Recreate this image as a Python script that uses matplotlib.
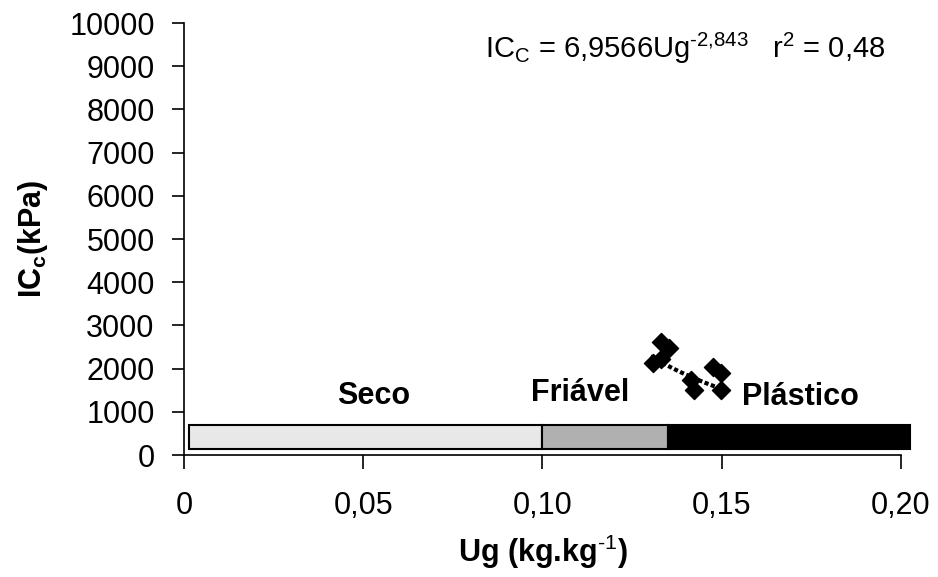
import numpy as np
import matplotlib.pyplot as plt

plt.rcParams['font.family'] = ['Liberation Sans', 'DejaVu Sans']
plt.rcParams['mathtext.fontset'] = 'custom'
plt.rcParams['mathtext.rm'] = 'Liberation Sans'
plt.rcParams['mathtext.bf'] = 'Liberation Sans:bold'

# measured points
ug = [0.1330, 0.1352, 0.1307, 0.1330, 0.1475, 0.1497, 0.1413, 0.1422, 0.1497]
icc = [2616, 2477, 2130, 2222, 2037, 1898, 1736, 1505, 1505]

# consistency ranges (bar along the bottom)
zone_edges = [0.0015, 0.10, 0.135, 0.2025]
zone_colors = ['#e8e8e8', '#b0b0b0', 'black']
zone_names = ['Seco', 'Friável', 'Plástico']
zone_label_x = [0.0528, 0.1105, 0.172]
zone_label_y = [1366, 1435, 1340]

a, b = 6.9566, -2.843

fig = plt.figure(figsize=(9.38, 5.77), dpi=100)
ax = fig.add_axes([0.196, 0.2114, 0.7646, 0.7487])

lefts = zone_edges[:-1]
widths = np.diff(zone_edges)
ax.barh(415, widths, left=lefts, height=560, color=zone_colors,
        edgecolor='black', linewidth=1.5, clip_on=False, zorder=2)

for name, x, y in zip(zone_names, zone_label_x, zone_label_y):
    ax.text(x, y, name, fontsize=22, fontweight='bold', ha='center', va='center')

ax.scatter(ug, icc, marker='D', s=85, color='black', zorder=3)
xf = np.linspace(0.1302, 0.1503, 50)
ax.plot(xf, a * xf ** b, color='black', lw=3, ls=(0, (1, 0.6)), zorder=4)

ax.text(0.1397, 9421, r'IC$_{\mathrm{C}}$ = 6,9566Ug$^{\text{-2,843}}$   r$^{\mathrm{2}}$ = 0,48',
        fontsize=21, ha='center', va='center')

ax.set_xlim(0, 0.2)
ax.set_ylim(0, 10000)
ax.set_xticks([0, 0.05, 0.10, 0.15, 0.20])
ax.set_xticklabels(['0', '0,05', '0,10', '0,15', '0,20'])
ax.set_yticks(range(0, 10001, 1000))
ax.tick_params(axis='x', length=10, width=1.2, pad=16, labelsize=22, direction='out')
ax.tick_params(axis='y', length=9, width=1.2, pad=12, labelsize=22, direction='out')
for s in ['top', 'right']:
    ax.spines[s].set_visible(False)
for s in ['left', 'bottom']:
    ax.spines[s].set_linewidth(1.2)

ax.set_xlabel(r'Ug (kg.kg$^{\text{-1}}$)', fontsize=22, fontweight='bold', labelpad=8)
ax.set_ylabel(r'IC$_{\mathbf{c}}$(kPa)', fontsize=22, fontweight='bold', labelpad=14)

fig.savefig('out.png', dpi=100)
